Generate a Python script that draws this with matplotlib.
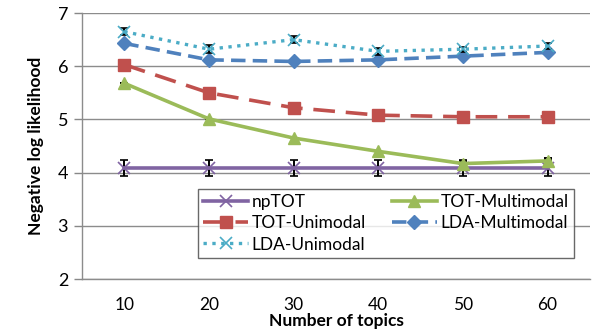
import matplotlib.pyplot as plt
from matplotlib.lines import Line2D

topics = [10, 20, 30, 40, 50, 60]

nptot = [4.08, 4.08, 4.08, 4.08, 4.08, 4.08]
nptot_err = [0.15, 0.15, 0.15, 0.15, 0.15, 0.15]
tot_multi = [5.68, 5.01, 4.65, 4.40, 4.17, 4.22]
tot_multi_err = [0.0, 0.0, 0.0, 0.0, 0.05, 0.05]
tot_uni = [6.03, 5.50, 5.22, 5.08, 5.05, 5.05]
lda_multi = [6.43, 6.12, 6.09, 6.12, 6.19, 6.26]
lda_uni = [6.65, 6.32, 6.50, 6.28, 6.32, 6.38]
lda_uni_err = [0.07, 0.07, 0.06, 0.06, 0.05, 0.06]

PURPLE = "#8064a2"
GREEN = "#9bbb59"
RED = "#c0504d"
BLUE = "#4f81bd"
CYAN = "#4bacc6"

plt.rcParams["font.family"] = ["Lato", "DejaVu Sans"]

fig = plt.figure(figsize=(5.92, 3.30), dpi=100)
ax = fig.add_axes([0.1385, 0.1545, 0.858, 0.806])

x = list(range(len(topics)))

styles = {
    "npTOT": dict(color=PURPLE, lw=2.6, ls="-", marker="x", ms=8, mew=1.2),
    "TOT-Unimodal": dict(color=RED, lw=2.6, ls=(0, (6, 3)), marker="s", ms=8),
    "LDA-Unimodal": dict(color=CYAN, lw=2.4, ls=":", marker="x", ms=8, mew=1.2),
    "TOT-Multimodal": dict(color=GREEN, lw=2.6, ls="-", marker="^", ms=8),
    "LDA-Multimodal": dict(color=BLUE, lw=2.6, ls=(0, (4, 2)), marker="D", ms=7),
}
err_kw = dict(ecolor="black", elinewidth=1.4, capsize=3, capthick=1.4)

ax.errorbar(x, nptot, yerr=nptot_err, zorder=3, **styles["npTOT"], **err_kw)
ax.plot(x, tot_uni, zorder=3, **styles["TOT-Unimodal"])
ax.errorbar(x, tot_multi, yerr=tot_multi_err, zorder=3,
            **styles["TOT-Multimodal"], **err_kw)
ax.plot(x, lda_multi, zorder=3, **styles["LDA-Multimodal"])
ax.errorbar(x, lda_uni, yerr=lda_uni_err, zorder=4, **styles["LDA-Unimodal"], **err_kw)

ax.set_xlim(-0.5, len(topics) - 0.5)
ax.set_ylim(2, 7)
ax.set_yticks([2, 3, 4, 5, 6, 7])
ax.set_xticks(x)
ax.set_xticklabels([str(t) for t in topics])
ax.tick_params(axis="x", length=0, pad=13, labelsize=12.5)
ax.tick_params(axis="y", length=6, width=1, color="#888888", labelsize=13, pad=4)

ax.grid(True, axis="y", color="#8c8c8c", lw=1)
ax.set_axisbelow(True)
for side in ("top", "right"):
    ax.spines[side].set_visible(False)
for side in ("left", "bottom"):
    ax.spines[side].set_color("#8c8c8c")
    ax.spines[side].set_linewidth(1)

ax.set_xlabel("Number of topics", fontsize=12.5, fontweight="bold", labelpad=0)
ax.set_ylabel("Negative log likelihood", fontsize=12.5, fontweight="bold", labelpad=10)

# legend filled column-wise: npTOT / TOT-Unimodal / LDA-Unimodal, then the rest
leg_order = ["npTOT", "TOT-Unimodal", "LDA-Unimodal", "TOT-Multimodal", "LDA-Multimodal"]
handles = [Line2D([], [], **styles[name]) for name in leg_order]
leg = ax.legend(handles, leg_order, ncol=2, loc="lower left",
                bbox_to_anchor=(0.228, 0.08), fontsize=12.5, frameon=True,
                fancybox=False, edgecolor="#444444", handlelength=2.6,
                handletextpad=0.2, columnspacing=1.5, labelspacing=0.3,
                borderpad=0.3, borderaxespad=0)
leg.get_frame().set_linewidth(1)

fig.savefig("out.png", dpi=100)
